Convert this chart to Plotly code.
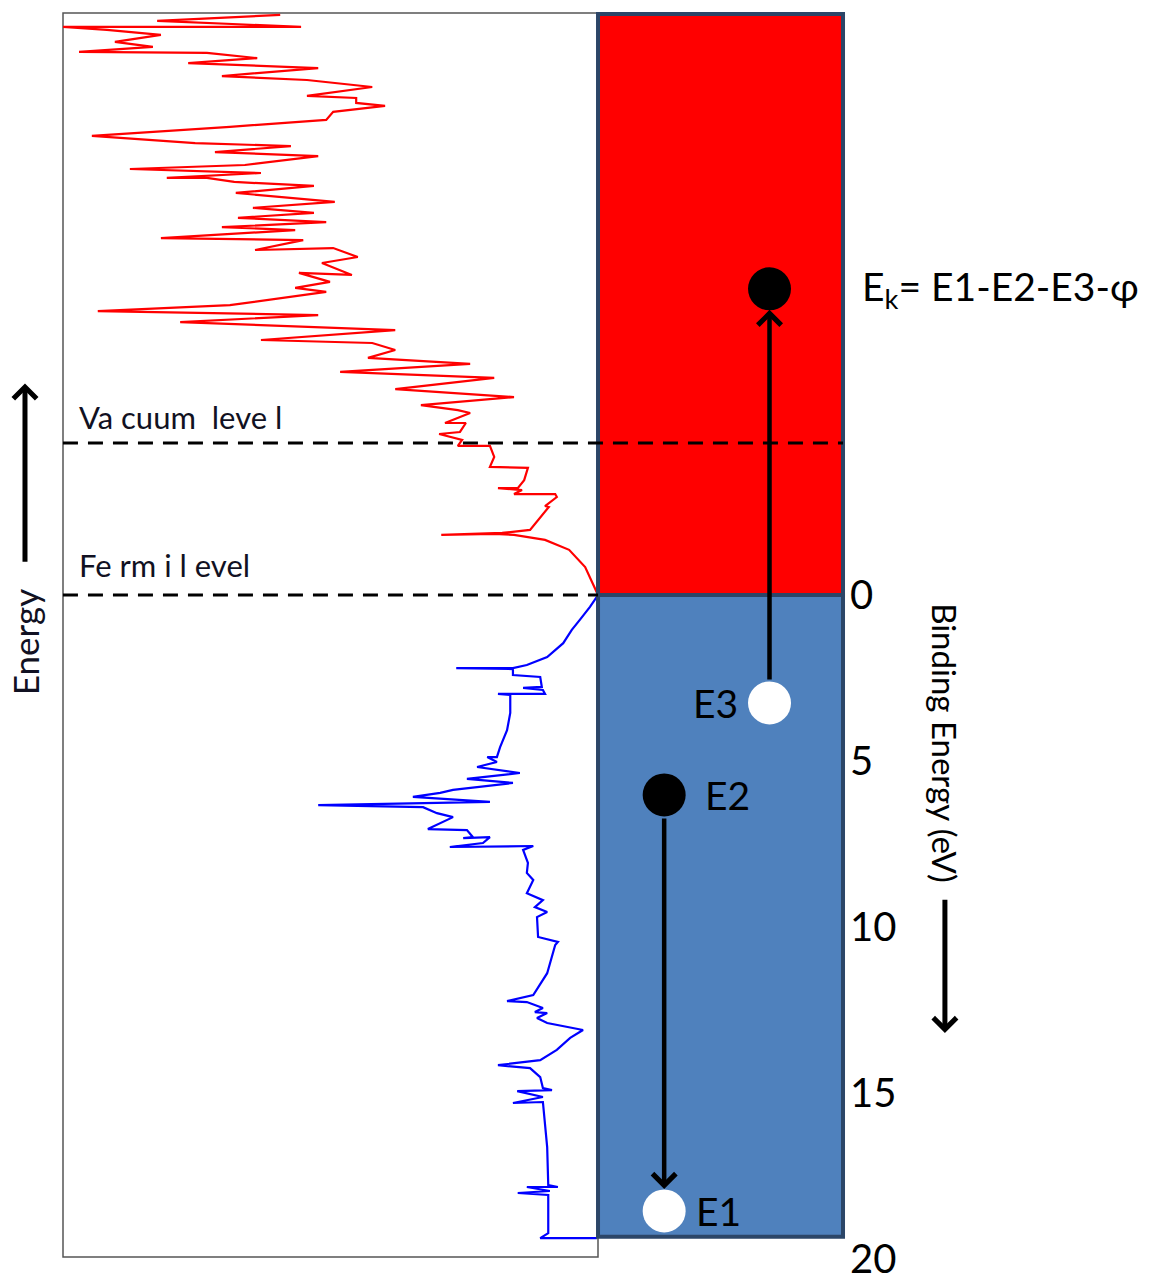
import plotly.graph_objects as go

# ---------------- data ----------------
# Density of states (arbitrary units) vs binding energy (eV); negative = above Fermi level
occ_energy = [0.00, 0.36, 0.75, 1.05, 1.45, 1.87, 2.11, 2.20, 2.20, 2.23, 2.41, 2.47, 2.77, 2.80, 2.86,
              2.98, 2.98, 3.01, 3.55, 4.07, 4.58, 4.88, 4.88, 5.03, 5.18, 5.36, 5.54, 5.66, 5.87, 5.96,
              6.08, 6.23, 6.33, 6.39, 6.57, 6.69, 7.05, 7.08, 7.29, 7.32, 7.29, 7.47, 7.59, 7.56, 7.68,
              8.07, 8.37, 8.58, 8.98, 9.19, 9.40, 9.55, 9.70, 10.30, 10.45, 10.54, 11.39, 12.05, 12.23,
              12.26, 12.44, 12.56, 12.59, 12.74, 12.89, 13.10, 13.34, 13.70, 14.01, 14.16, 14.25, 14.52,
              14.85, 14.91, 14.94, 15.12, 15.30, 15.27, 16.63, 17.77, 17.83, 17.83, 17.95, 18.01, 18.07,
              19.22, 19.37, 19.37]
occ_dos = [0.0, 1.5, 3.4, 4.9, 6.5, 9.5, 13.3, 15.9, 26.5, 15.9, 15.9, 10.8, 10.5, 14.0, 10.3,
           9.9, 18.7, 16.4, 16.4, 17.0, 18.3, 18.9, 20.7, 18.9, 22.6, 14.6, 24.5, 15.9, 27.1, 29.5,
           34.6, 20.2, 52.3, 32.7, 30.1, 27.1, 31.8, 24.5, 23.4, 25.2, 20.2, 21.5, 27.7, 12.1, 14.0,
           13.1, 13.3, 12.1, 13.3, 10.3, 11.8, 9.5, 11.4, 11.2, 7.5, 8.0, 9.5, 12.1, 17.0,
           13.3, 10.3, 11.8, 9.5, 11.4, 9.5, 2.8, 5.2, 7.7, 10.8, 18.7, 12.7, 10.8,
           10.3, 8.6, 15.1, 10.3, 15.9, 10.3, 9.5, 9.3, 7.5, 13.3, 9.0, 15.0, 9.3,
           9.3, 10.8, 0.2]

unocc_energy = [0.00, -0.84, -1.36, -1.66, -1.81, -1.84, -1.81, -1.87, -1.96, -2.65, -2.68, -2.95, -3.04,
                -3.04, -3.16, -3.22, -3.22, -3.46, -3.83, -3.86, -4.16, -4.49, -4.49, -4.67, -4.85, -4.91,
                -5.18, -5.18, -5.48, -5.57, -5.72, -5.96, -6.20, -6.54, -6.72, -6.96, -7.14, -7.38, -7.59,
                -7.68, -7.98, -8.22, -8.43, -8.55, -8.73, -8.98, -9.13, -9.25, -9.43, -9.70, -9.64, -10.00,
                -10.18, -10.45, -10.39, -10.69, -10.75, -10.99, -11.08, -11.23, -11.36, -11.51, -11.66,
                -11.84, -11.99, -12.11, -12.32, -12.44, -12.56, -12.56, -12.71, -12.83, -12.95, -13.22,
                -13.34, -13.52, -13.61, -13.83, -14.10, -14.31, -14.55, -14.73, -14.82, -14.97, -15.03,
                -15.30, -15.51, -15.63, -15.87, -16.02, -16.17, -16.33, -16.36, -16.51, -16.66, -16.87,
                -17.02, -17.11, -17.11, -17.23, -17.29, -17.47]
unocc_dos = [0.0, 2.4, 5.4, 9.9, 15.7, 19.4, 29.3, 17.9, 12.7, 9.2, 9.9, 7.7, 8.0,
             15.7, 14.2, 18.7, 15.0, 13.8, 13.1, 20.2, 19.4, 20.2, 26.2, 25.4, 29.7, 25.8,
             24.7, 28.6, 23.9, 26.2, 33.1, 15.7, 37.9, 19.4, 48.2, 23.9, 43.0, 37.9, 42.2,
             63.0, 37.9, 78.1, 52.3, 93.5, 68.8, 57.4, 50.8, 56.6, 50.1, 55.9, 46.0, 51.6,
             44.9, 49.5, 64.1, 55.1, 81.7, 56.6, 70.3, 50.8, 67.3, 53.1, 64.5,
             49.2, 60.2, 67.7, 53.1, 68.0, 73.1, 80.6, 63.0, 87.5, 66.0, 52.3,
             71.6, 57.4, 75.3, 94.6, 68.8, 50.8, 49.5, 39.8, 45.2, 45.2, 54.4,
             42.2, 54.4, 70.3, 52.3, 76.6, 63.7, 73.1, 97.0, 83.2, 90.3, 81.7,
             91.8, 100.0, 55.5, 73.1, 82.4, 59.4]

# Levels (eV, binding energy scale)
fermi_level = 0.0
vacuum_level = -4.58
band_top = -17.5
band_bottom = 19.33
panel_top = -17.53
panel_bottom = 19.94

# Electron states
state_names = ["Ek", "E3", "E2", "E1"]
state_energy = [-9.22, 3.25, 6.02, 18.55]
state_pos = [0.70, 0.70, 0.27, 0.27]   # horizontal position within the band box
state_filled = [True, False, True, False]

tick_vals = [0, 5, 10, 15, 20]
tick_text = ["0", "5", "10", "15", "20"]

FONT = "Lato, 'Noto Sans', sans-serif"
RED = "#FF0000"
BLUE_FILL = "#4F81BD"
OUTLINE = "#2C4668"

fig = go.Figure()

fig.add_trace(go.Scatter(x=occ_dos, y=occ_energy, mode="lines",
                         line=dict(color="#0000FF", width=2.2), xaxis="x", yaxis="y",
                         showlegend=False, hoverinfo="skip"))
fig.add_trace(go.Scatter(x=unocc_dos, y=unocc_energy, mode="lines",
                         line=dict(color="#FF0000", width=2.2), xaxis="x", yaxis="y",
                         showlegend=False, hoverinfo="skip"))

# dots
fig.add_trace(go.Scatter(
    x=state_pos, y=state_energy, mode="markers", xaxis="x2", yaxis="y",
    marker=dict(size=43, color=["#000000" if f else "#FFFFFF" for f in state_filled],
                line=dict(width=0)),
    showlegend=False, hoverinfo="skip"))

shapes = []
shapes.append(dict(type="rect", xref="x domain", yref="y", x0=0, x1=1,
                   y0=panel_top, y1=panel_bottom, line=dict(color="#555555", width=1.5),
                   fillcolor="rgba(0,0,0,0)", layer="below"))
shapes.append(dict(type="rect", xref="x2", yref="y", x0=0, x1=1, y0=band_top, y1=fermi_level,
                   fillcolor=RED, line=dict(color=OUTLINE, width=4), layer="below"))
shapes.append(dict(type="rect", xref="x2", yref="y", x0=0, x1=1, y0=fermi_level, y1=band_bottom,
                   fillcolor=BLUE_FILL, line=dict(color=OUTLINE, width=4), layer="below"))
left_edge = -2.184
shapes.append(dict(type="line", xref="x2", yref="y", x0=left_edge, x1=0,
                   y0=fermi_level, y1=fermi_level,
                   line=dict(color="black", width=3, dash="15px,10px")))
shapes.append(dict(type="line", xref="x2", yref="y", x0=left_edge, x1=1,
                   y0=vacuum_level, y1=vacuum_level,
                   line=dict(color="black", width=3, dash="15px,10px")))

annotations = []
annotations.append(dict(x=state_pos[0], y=state_energy[0], ax=state_pos[1], ay=state_energy[1],
                        xref="x2", yref="y", axref="x2", ayref="y", text="", showarrow=True,
                        arrowhead=4, arrowsize=1.0, arrowwidth=4.5, arrowcolor="black",
                        standoff=21, startstandoff=22))
annotations.append(dict(x=state_pos[3], y=state_energy[3], ax=state_pos[2], ay=state_energy[2],
                        xref="x2", yref="y", axref="x2", ayref="y", text="", showarrow=True,
                        arrowhead=4, arrowsize=1.0, arrowwidth=4.5, arrowcolor="black",
                        standoff=22, startstandoff=22))
# Energy arrow (left)
annotations.append(dict(x=-2.339, y=-6.37, ax=-2.339, ay=-0.96,
                        xref="x2", yref="y", axref="x2", ayref="y", text="", showarrow=True,
                        arrowhead=4, arrowsize=0.9, arrowwidth=5, arrowcolor="black"))
annotations.append(dict(x=-2.339, y=1.42, xref="x2", yref="y", text="Energy", showarrow=False,
                        textangle=-90, font=dict(family=FONT, size=35, color="#111122")))
# Binding energy arrow (right)
annotations.append(dict(x=1.416, y=13.19, ax=1.416, ay=9.13,
                        xref="x2", yref="y", axref="x2", ayref="y", text="", showarrow=True,
                        arrowhead=4, arrowsize=0.9, arrowwidth=5, arrowcolor="black"))
annotations.append(dict(x=1.416, y=4.46, xref="x2", yref="y", text="Binding Energy (eV)",
                        showarrow=False, textangle=90,
                        font=dict(family=FONT, size=33, color="black")))
annotations.append(dict(x=-2.127, y=-5.36, xref="x2", yref="y", text="Va cuum  leve l",
                        showarrow=False, xanchor="left",
                        font=dict(family=FONT, size=31, color="#111122")))
annotations.append(dict(x=-2.127, y=-0.90, xref="x2", yref="y", text="Fe rm i l evel",
                        showarrow=False, xanchor="left",
                        font=dict(family=FONT, size=31, color="#111122")))
annotations.append(dict(x=1.069, y=state_energy[0], xref="x2", yref="y",
                        text="E<sub>k</sub>= E1-E2-E3-φ", showarrow=False, xanchor="left",
                        font=dict(family=FONT, size=39, color="black")))
annotations.append(dict(x=0.58, y=state_energy[1], xref="x2", yref="y", text="E3",
                        showarrow=False, xanchor="right",
                        font=dict(family=FONT, size=39, color="black")))
annotations.append(dict(x=0.43, y=state_energy[2], xref="x2", yref="y", text="E2",
                        showarrow=False, xanchor="left",
                        font=dict(family=FONT, size=39, color="black")))
annotations.append(dict(x=0.39, y=state_energy[3], xref="x2", yref="y", text="E1",
                        showarrow=False, xanchor="left",
                        font=dict(family=FONT, size=39, color="black")))

fig.update_layout(
    width=1149, height=1276,
    margin=dict(l=0, r=0, t=0, b=0),
    paper_bgcolor="white", plot_bgcolor="rgba(0,0,0,0)",
    xaxis=dict(domain=[63 / 1149, 598 / 1149], range=[100, 0], visible=False, anchor="y"),
    xaxis2=dict(domain=[0, 1], range=[-2.441, 2.249], visible=False, anchor="y"),
    yaxis=dict(range=[20.51, -17.92], domain=[0, 1], anchor="free", position=843 / 1149,
               side="right", tickvals=tick_vals, ticktext=tick_text, ticks="",
               showgrid=False, zeroline=False, showline=False, automargin=False,
               ticklabelstandoff=6, ticklabeloverflow="allow",
               tickfont=dict(family=FONT, size=40, color="black")),
    shapes=shapes, annotations=annotations, showlegend=False,
)

fig.write_html("out.html", config={"displayModeBar": False},
               post_script="document.body.style.margin='0px';document.body.style.overflow='hidden';")
